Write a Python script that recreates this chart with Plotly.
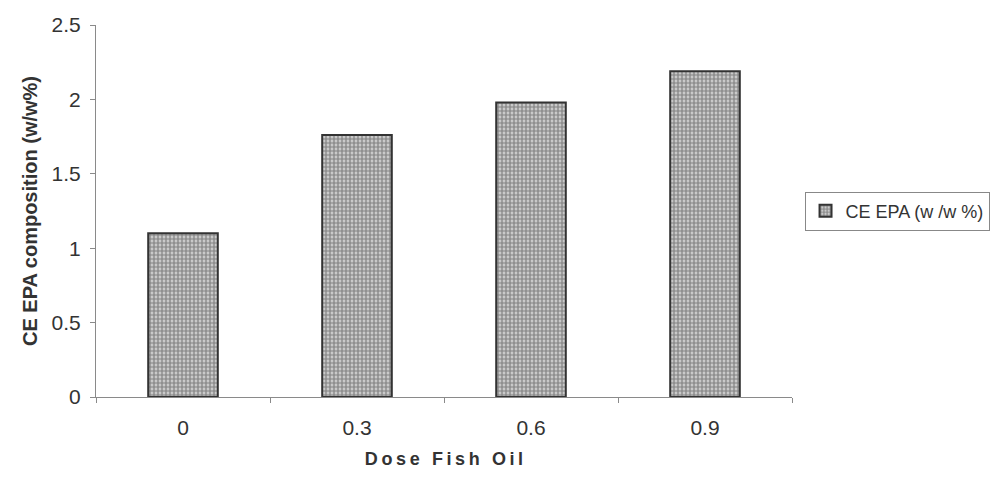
import plotly.graph_objects as go

# Fish-oil dose groups and cholesteryl-ester EPA content
doses = ["0", "0.3", "0.6", "0.9"]
ce_epa = [1.10, 1.76, 1.98, 2.19]
series_name = "CE EPA (w /w %)"
x_title = "Dose Fish Oil"
y_title = "CE EPA composition (w/w%)"

# spread the x-axis title letters with thin spaces
spaced_x_title = "\u2009".join(x_title)

fig = go.Figure()
fig.add_trace(go.Bar(
    x=doses,
    y=ce_epa,
    name=series_name,
    width=0.4,
    marker=dict(
        color="#c8c8c8",
        line=dict(color="#333333", width=2),
        pattern=dict(shape=".", fgcolor="#404040", bgcolor="#e0e0e0",
                     size=4, solidity=0.7, fillmode="overlay"),
    ),
    showlegend=True,
))

axis_color = "#8a8a8a"
font_family = "Liberation Sans, Arial, sans-serif"

fig.update_layout(
    width=1004, height=480,
    margin=dict(l=96, r=212, t=25, b=83, autoexpand=False),
    paper_bgcolor="white", plot_bgcolor="white",
    font=dict(family=font_family, size=21, color="#333333"),
    bargap=0.6,
    showlegend=True,
    legend=dict(
        x=1.018, y=0.5, xanchor="left", yanchor="middle",
        bordercolor="#888888", borderwidth=1,
        font=dict(size=18, color="#333333"),
        itemwidth=30,
    ),
    xaxis=dict(
        type="category",
        showline=True, linecolor=axis_color, linewidth=1,
        ticks="outside", ticklen=5, tickcolor=axis_color,
        tickson="boundaries",
        ticklabelstandoff=12,
        showgrid=False, zeroline=False,
        tickfont=dict(size=21, color="#333333"),
        title=dict(text="<b>" + spaced_x_title + "</b>",
                   font=dict(size=18, color="#333333"), standoff=14),
    ),
    yaxis=dict(
        range=[0, 2.5],
        tickvals=[0, 0.5, 1, 1.5, 2, 2.5],
        ticktext=["0", "0.5", "1", "1.5", "2", "2.5"],
        showline=True, linecolor=axis_color, linewidth=1,
        ticks="outside", ticklen=5, tickcolor=axis_color,
        ticklabelstandoff=5,
        showgrid=False, zeroline=False,
        tickfont=dict(size=21, color="#333333"),
        title=dict(text="<b>" + y_title + "</b>",
                   font=dict(size=20, color="#333333"), standoff=8),
    ),
)

fig.write_html("out.html")
